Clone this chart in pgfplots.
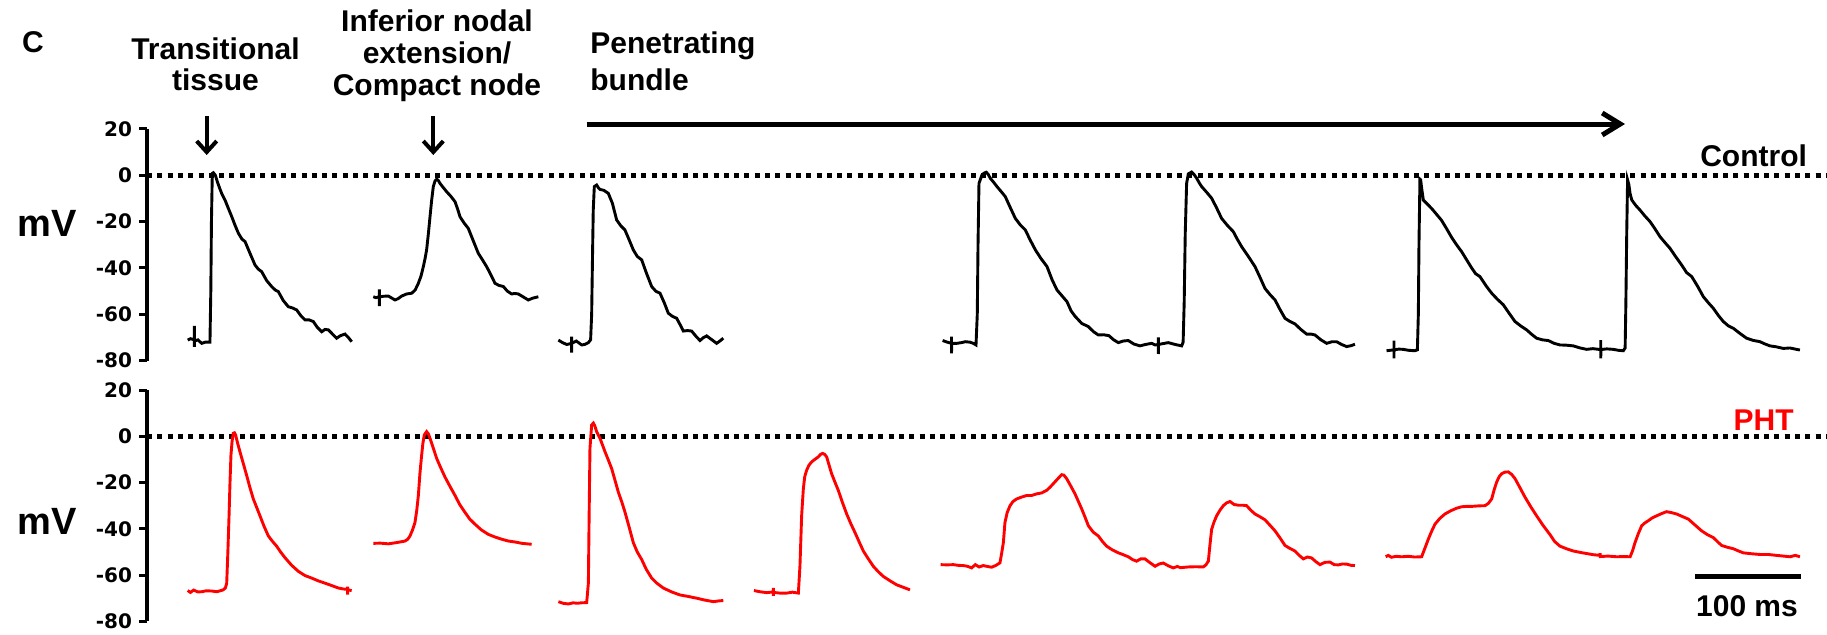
\documentclass[border=0pt]{standalone}
\usepackage{fontspec}
\setmainfont{Liberation Sans}
\newfontfamily\tickfont{DejaVu Sans}
\usepackage{pgfplots}
\pgfplotsset{compat=1.18}
\usetikzlibrary{arrows.meta}
\newcommand\lab{\bfseries\fontsize{15}{18}\selectfont}
\pgfplotsset{trace/.style={
  scale only axis, width=839.5pt, xmin=0, xmax=1584, ymin=-80, ymax=20,
  axis x line=none, axis y line*=left,
  axis line style={line width=1.6pt,-},
  ytick={-80,-60,-40,-20,0,20}, yticklabels={-80,-60,-40,-20,0,20},
  tick align=outside, major tick length=4pt,
  every tick/.style={black, line width=1.5pt},
  yticklabel style={font=\tickfont\bfseries\fontsize{10}{11}\selectfont, text=black},
  clip=false,
}}
\begin{document}
\begin{tikzpicture}
% ---------------- Control ----------------
\begin{axis}[trace, height=115.9pt, at={(73.5pt,-180.35pt)}, anchor=south west]
\addplot[black, line width=2.5pt, dash pattern=on 2.5pt off 2.65pt] coordinates {(0,0) (1584,0)};
\addplot[black, line width=1.45pt] coordinates {
(38.4,-71.1) (41,-70.5) (44.7,-71) (44.7,-65) (44.7,-74) (44.8,-71.5) (48,-71) (51.6,-72.5) (55,-72) (59.4,-72) (60.2,-50) (60.8,-20) (61.6,0.8) (62.6,1.1) (64.5,0) (66.5,-3) (68.5,-5.5) (70.4,-7.8) (73.6,-10.7) (76.5,-14) (79.9,-17.8) (83,-21.5) (86.2,-25) (89.5,-27.5) (92.5,-28.6) (97,-33.5) (101.9,-38.7) (105,-40.5) (108.2,-41.6) (113,-45.5) (117.6,-48) (121,-49.5) (123.9,-50.2) (128.5,-54) (133.3,-56.7) (137,-57.2) (141.2,-58.1) (145,-60.5) (149.1,-62.4) (153,-62.4) (156.9,-63.1) (160.5,-65.5) (164.8,-67.5) (168,-66.5) (171.1,-66.7) (175,-68.5) (178.9,-70.3) (182.5,-69.2) (186.8,-68.5) (190,-70) (193.1,-71.8)};
\addplot[black, line width=1.45pt] coordinates {
(213.5,-52.4) (216,-52.8) (219.2,-52.4) (219.2,-49.2) (219.2,-56.4) (219.3,-52.5) (223,-52.2) (227.7,-52.1) (231,-53) (234,-53.8) (237,-53.2) (240.3,-52.1) (245,-51.2) (249.7,-50.9) (253,-49.5) (256,-46.6) (258.5,-43.5) (260.7,-39.4) (262.3,-36) (263.8,-32.2) (265.5,-25) (267,-17.9) (268.5,-11) (270.1,-4.9) (271.7,-2.5) (273.3,-1.7) (274.8,-2.2) (276.4,-3.5) (279.5,-5.3) (282.7,-7.1) (286.5,-9) (290.6,-11.4) (293,-14.5) (295.3,-17.9) (299,-20.5) (303.1,-22.9) (308,-28.5) (312.6,-33.7) (316.5,-36.5) (320.4,-39.4) (324.5,-43) (328.3,-46.6) (332,-47.5) (336.2,-48) (340,-50) (344,-51.2) (347,-51) (350.3,-51.2) (355,-52.5) (359.7,-53.8) (364,-53) (369.2,-52.4)};
\addplot[black, line width=1.45pt] coordinates {
(388.1,-71.1) (392,-72.2) (396,-73) (400.6,-72.5) (400.6,-69.6) (400.6,-76.5) (400.7,-72.5) (405,-71.5) (410.1,-73.2) (413,-73) (416.4,-72.2) (418.5,-71) (419.5,-60) (420.3,-35) (421,-15) (422,-4.9) (424.2,-4.2) (426,-5.5) (427.4,-6.1) (431,-6.5) (435.2,-7.8) (439,-12) (443.1,-19.3) (447,-21.8) (450.9,-23.6) (455,-28) (458.8,-32.2) (462.5,-35) (466.7,-36.5) (471,-42) (476.1,-48) (480,-50) (484,-50.9) (488,-55) (491.8,-59.5) (495.5,-60.8) (499.7,-61.7) (503,-64.5) (506,-67.2) (510,-67) (513.8,-67.2) (518,-69.5) (521.7,-71.3) (525,-70) (528,-69.3) (533,-71) (537.4,-72.5) (540.5,-71.5) (543.7,-70.3)};
\addplot[black, line width=1.45pt] coordinates {
(750.6,-71.3) (755,-72) (759,-72.5) (759,-69.6) (759,-76.8) (759.1,-72.5) (764,-72.5) (768.4,-72.2) (772,-71.8) (776.4,-72) (779.5,-72.5) (782.1,-73.2) (783.3,-60) (784,-30) (784.9,-3.5) (787.7,0.1) (790,1) (791.8,1.3) (793.7,0.3) (795.6,-1.3) (798.7,-3) (801.9,-4.9) (805.8,-7) (809.7,-9.2) (814.5,-14) (819.2,-18.6) (824,-21.5) (828.6,-23.6) (833.3,-28) (838.1,-32.2) (843.5,-36) (849.1,-39.4) (853.8,-45) (858.5,-49.5) (863.2,-52) (867.9,-54.5) (871.8,-58.5) (875.5,-60.8) (881.8,-63.9) (888.1,-65.3) (893,-67.5) (897.5,-68.9) (902.5,-68.8) (907.5,-69.2) (912,-71) (916.4,-72.2) (921,-71.5) (925.8,-71.3) (931,-72.8) (936.8,-73.6) (942,-73) (947.8,-72.5) (951,-73.2) (954.1,-73) (954.1,-69.9) (954.1,-77.1) (954.2,-73) (958.8,-72.6) (963.5,-72.2) (970,-73) (976.1,-73.6) (977.5,-72) (978.5,-55) (979.5,-25) (980.8,-3.5) (982.4,0.6) (985.5,1.4) (988,0.2) (990.3,-1.3) (993,-3.5) (995,-4.9) (1000,-7.5) (1004.4,-9.9) (1009,-14) (1013.8,-18.6) (1019,-21.5) (1024.8,-24.3) (1028.5,-27.5) (1032.7,-30.8) (1039,-35) (1045.3,-39.4) (1050,-44) (1054.7,-48.8) (1059.5,-51.5) (1064.2,-53.8) (1069,-58) (1073.6,-61.7) (1078,-63) (1083,-64.1) (1088.5,-66.5) (1094,-68.5) (1098,-68.5) (1101.9,-68.9) (1107.5,-71) (1112.9,-72.5) (1118,-71.8) (1122.3,-71.8) (1127,-73) (1131.8,-73.9) (1136,-73.5) (1139.6,-72.9)};
\addplot[black, line width=1.45pt] coordinates {
(1169.4,-75.7) (1173,-75.5) (1176.4,-75.3) (1176.4,-71.3) (1176.4,-79) (1176.5,-75.3) (1181,-75) (1185.2,-75.1) (1190,-75.5) (1196.2,-75.7) (1198.5,-75.3) (1199.4,-60) (1200,-30) (1200.9,-1.7) (1201.6,-2) (1202.5,-5.5) (1204.1,-10.7) (1208,-12.5) (1211.9,-14.3) (1216.5,-16.8) (1221.4,-19.5) (1226,-23) (1230.8,-26.8) (1235.5,-30) (1240.3,-33) (1245,-36.5) (1249.7,-40) (1253.5,-42.5) (1257.5,-43.7) (1263,-47.5) (1268.6,-50.9) (1274,-53.5) (1279.6,-55.9) (1285,-59.5) (1290.6,-63.1) (1296,-65) (1301.6,-66.7) (1306,-68.5) (1311,-70.3) (1316.5,-71) (1322,-71.3) (1327.5,-72.5) (1333,-73.2) (1339,-73.3) (1345.6,-73.6) (1352,-74.5) (1358.2,-75.1) (1364,-74.8) (1371.5,-75.2) (1371.5,-71.1) (1371.5,-79) (1371.6,-75.2) (1377,-74.9) (1383.3,-75.1) (1388,-75.5) (1392.8,-75.7) (1394.5,-74.5) (1395.2,-55) (1396,-25) (1396.8,-2) (1398,-4) (1399.2,-8) (1400.8,-10.7) (1404.5,-13) (1408.5,-15) (1413,-17.5) (1418,-20) (1422.5,-23) (1427.4,-26.5) (1432,-29) (1436.8,-31.5) (1442,-35) (1447.8,-38.7) (1452.5,-42) (1457.3,-43.7) (1463,-48) (1468.3,-52.4) (1473,-55) (1477.7,-57.4) (1482.5,-60.5) (1487.1,-63.1) (1492,-65) (1496.5,-66) (1503,-68.3) (1509.1,-70.3) (1515,-71.2) (1521.7,-71.8) (1526.5,-72.8) (1531.1,-73.6) (1537,-74) (1543.7,-74.7) (1550,-74.5) (1555,-75) (1559.4,-75.4)};
\end{axis}
% ---------------- PHT ----------------
\begin{axis}[trace, height=115.65pt, at={(73.5pt,-310.65pt)}, anchor=south west]
\addplot[black, line width=2.5pt, dash pattern=on 2.5pt off 2.65pt] coordinates {(0,0) (1584,0)};
\addplot[red, line width=1.45pt] coordinates {
(38.4,-66.7) (41,-67.5) (44,-66.5) (48,-67.3) (51.6,-67.2) (56,-66.8) (61,-66.9) (66,-67.2) (72,-66.4) (74,-65.5) (75.2,-63.5) (76.3,-50) (77.4,-34.4) (78.3,-20) (79.2,-8.2) (80.3,-2) (81.4,1.3) (82.5,1.5) (83.6,0.6) (85.5,-3) (87.7,-6.7) (91,-12) (94,-16.9) (97,-22) (100.3,-27.1) (103.5,-30.8) (106.6,-34.4) (110.5,-39) (114.5,-43.1) (118.5,-45.5) (122.3,-47.5) (126,-50) (130.2,-52.5) (136.5,-55.8) (142.8,-58.4) (149,-60.2) (155.3,-61.3) (161.5,-62.5) (167.9,-63.5) (174,-64.5) (180.5,-65.6) (185,-66) (189.3,-66.2) (189.3,-65) (189.3,-68.5) (189.4,-66.4) (193.1,-66.7)};
\addplot[red, line width=1.45pt] coordinates {
(213.5,-46.3) (220,-46.2) (227.7,-46.5) (235,-46) (243.4,-45.3) (246,-44.5) (248.1,-43.1) (250.5,-40.5) (252.8,-37.3) (254.5,-32) (256,-25.6) (257.5,-16) (259.1,-8.2) (260.3,-3) (261.6,0.6) (263.8,2) (265.5,1) (267,-0.9) (270,-5) (273.3,-9.6) (277,-13.5) (281.1,-17.6) (286,-21.8) (290.6,-25.6) (295,-29.5) (300,-32.9) (304.5,-35.8) (309.4,-38) (315.5,-40.5) (322,-42.4) (328,-43.5) (334.6,-44.5) (341,-45.3) (347.2,-45.7) (354,-46.3) (362.9,-46.7)};
\addplot[red, line width=1.45pt] coordinates {
(388.1,-71.5) (392.5,-72.2) (397.5,-72.5) (402,-72) (406,-72.2) (410,-72) (414.8,-71.9) (416.4,-63.5) (417.1,-35) (417.9,-5.2) (419.5,4.9) (421.1,5.7) (422.5,4.5) (424.2,2) (427.4,-0.9) (432.1,-6.7) (435,-10) (438.4,-14) (441.5,-19) (444.7,-24.2) (448,-28.5) (451,-32.9) (455,-39.5) (458.8,-46) (462.5,-50) (466.7,-53.3) (471,-57.5) (476.1,-61.3) (481,-63.5) (487.1,-65.6) (495,-67.3) (502.8,-68.6) (510,-69.2) (518.6,-70) (526,-70.8) (534.3,-71.5) (539,-71.2) (543.7,-71)};
\addplot[red, line width=1.45pt] coordinates {
(572.6,-66.7) (578,-67.2) (584.6,-67.6) (590.9,-67.3) (590.9,-65.5) (590.9,-69) (591,-67.5) (597,-67.8) (603.5,-67.8) (609,-67.4) (614.5,-67.8) (616,-56.2) (617.6,-34.4) (619.2,-22.7) (620.5,-17.5) (622.3,-14.7) (624.5,-12.5) (627,-11.1) (630,-10) (633.3,-8.9) (635.5,-7.8) (637.4,-7.4) (639.3,-7.8) (641.2,-8.9) (643.5,-12.5) (645.9,-16.2) (649,-19.8) (652.2,-23.4) (656,-28.5) (660.1,-33.6) (664,-37.8) (667.9,-41.6) (672,-45.8) (675.8,-49.6) (680.5,-53) (685.2,-56.2) (690,-58.6) (694.7,-60.6) (701,-62.5) (707.2,-64.2) (713.5,-65.3) (719.8,-66.4)};
\addplot[red, line width=1.45pt] coordinates {
(748.7,-55.5) (754.7,-55.6) (760.7,-55.5) (765.4,-55.8) (770.1,-55.9) (774,-56.2) (778,-56.9) (781.5,-55.5) (785,-56.5) (789,-55.9) (793,-56.3) (796.9,-56.6) (801,-55.8) (804.7,-54.7) (806.5,-50) (807.9,-46) (809.4,-37.3) (811.5,-33) (814.2,-30) (817,-28.2) (820.4,-27.1) (825,-26.3) (829.9,-25.6) (834.5,-25.6) (839.3,-24.9) (844,-24.5) (848.7,-23.4) (852,-22) (855,-20.5) (859,-18.5) (862.9,-16.6) (865,-16.8) (867.6,-18.3) (871.5,-21.5) (875.5,-24.9) (878.5,-28) (881.8,-31.4) (885,-35) (888.1,-38.7) (892.8,-41.5) (897.5,-43.1) (901.4,-45.5) (905.3,-47.5) (911,-49.2) (916.4,-50.4) (921,-51.2) (925.8,-52.1) (929.7,-53.3) (933.6,-54) (937.5,-53) (941.5,-53) (946,-54.6) (951,-56.2) (955,-55.2) (958.8,-54.8) (963.5,-56) (968.2,-56.9) (972,-56.3) (975,-56.8) (982.4,-56.5) (989.5,-56.4) (996.5,-56.5) (999,-55.6) (1001.3,-54) (1002.8,-47) (1004.4,-40.2) (1006.7,-37) (1009.1,-34.4) (1012.2,-32) (1015.4,-30) (1018.5,-28.8) (1021.7,-28.2) (1025.6,-29.5) (1029.6,-29.8) (1033.5,-29.8) (1037.4,-30) (1041.4,-32) (1045.3,-33.6) (1050,-34.8) (1054.7,-36.1) (1059.5,-38.5) (1064.2,-40.9) (1069,-44) (1073.6,-47.2) (1078.3,-48.5) (1083,-49.6) (1087,-51.5) (1090.9,-53) (1094.8,-52.2) (1098.7,-52.6) (1102.7,-54.2) (1106.6,-55.5) (1111.3,-54.5) (1116,-54.4) (1120,-55.5) (1123.9,-55.6) (1128,-55.2) (1132,-55.3) (1136,-55.8) (1139.6,-55.9)};
\addplot[red, line width=1.45pt] coordinates {
(1168.6,-52.1) (1171,-51.5) (1174,-52.3) (1178.5,-51.9) (1183.6,-52.1) (1190,-51.9) (1196,-52.2) (1202.5,-52.1) (1205.5,-48.5) (1208.8,-44.5) (1212,-41) (1215.1,-38) (1219.7,-35.5) (1224.5,-33.6) (1230,-32.2) (1235.5,-31.1) (1240,-30.5) (1244.9,-30.3) (1250,-30.3) (1256,-30.1) (1262.3,-30) (1265.5,-29) (1268.6,-27.1) (1271,-23) (1273.3,-19.8) (1275.6,-17.5) (1278,-16.2) (1281,-15.5) (1284.3,-15.4) (1287.5,-16.5) (1290.6,-18.3) (1295,-22) (1300,-26.3) (1305.5,-30.5) (1311,-34.4) (1317,-38.5) (1323.6,-42.5) (1328,-45.5) (1333,-47.5) (1339,-48.6) (1345.6,-49.6) (1352,-50.2) (1358.2,-50.7) (1364.5,-51.2) (1370.9,-51.5) (1370.9,-50.5) (1371,-52) (1378.5,-51.8) (1386.6,-52.1) (1393,-52) (1399.2,-52.1) (1401.5,-49.5) (1403.8,-46) (1407,-42) (1410.1,-38.7) (1413,-37.5) (1416.4,-36.5) (1420,-35.3) (1424.2,-34.4) (1429,-33.4) (1433.6,-32.6) (1438,-33) (1443.1,-33.6) (1448.5,-34.7) (1454.1,-35.8) (1460,-38.2) (1466.7,-40.9) (1472,-42.5) (1477.7,-43.8) (1481.5,-45.5) (1485.5,-47.2) (1491,-48) (1496.5,-48.6) (1501,-49.5) (1506,-50.4) (1514,-50.8) (1521.7,-51.1) (1529.5,-51.1) (1537.4,-51.5) (1544,-51.8) (1550,-52.1) (1555,-51.5) (1559.4,-52.1)};
\draw[line width=2.5pt] (axis cs:1460.4,-60.8) -- (axis cs:1560.4,-60.8);
\end{axis}
% ---------------- annotations ----------------
\begin{scope}[every node/.style={inner sep=0pt, font=\lab}]
\node[anchor=base west] at (10.85pt,-26.35pt) {C};
\node[anchor=base] at (107.75pt,-29.65pt) {Transitional};
\node[anchor=base] at (107.75pt,-45pt) {tissue};
\node[anchor=base] at (218.5pt,-15.85pt) {Inferior nodal};
\node[anchor=base] at (218.5pt,-31.5pt) {extension/};
\node[anchor=base] at (218.5pt,-47.5pt) {Compact node};
\node[anchor=base west] at (295pt,-26.65pt) {Penetrating};
\node[anchor=base west] at (295pt,-45.35pt) {bundle};
\node[anchor=base east] at (903.65pt,-83.35pt) {Control};
\node[anchor=base east, text=red] at (897pt,-215.35pt) {PHT};
\node[anchor=base] at (873.5pt,-308.35pt) {100 ms};
\node[font=\bfseries\fontsize{19}{22}\selectfont] at (23.5pt,-111.5pt) {mV};
\node[font=\bfseries\fontsize{19}{22}\selectfont] at (23.5pt,-260.5pt) {mV};
\end{scope}
\draw[line width=2.5pt, -{Straight Barb[length=9pt,width=11pt]}] (293.35pt,-62pt) -- (812.5pt,-62pt);
\draw[line width=2pt, -{Straight Barb[length=5.5pt,width=10pt]}] (103.35pt,-58pt) -- (103.35pt,-77.5pt);
\draw[line width=2pt, -{Straight Barb[length=5.5pt,width=10pt]}] (216.65pt,-58pt) -- (216.65pt,-77.5pt);
\pgfresetboundingbox
\path[use as bounding box] (0,0) rectangle (913.5pt,-317pt);
\end{tikzpicture}
\end{document}
